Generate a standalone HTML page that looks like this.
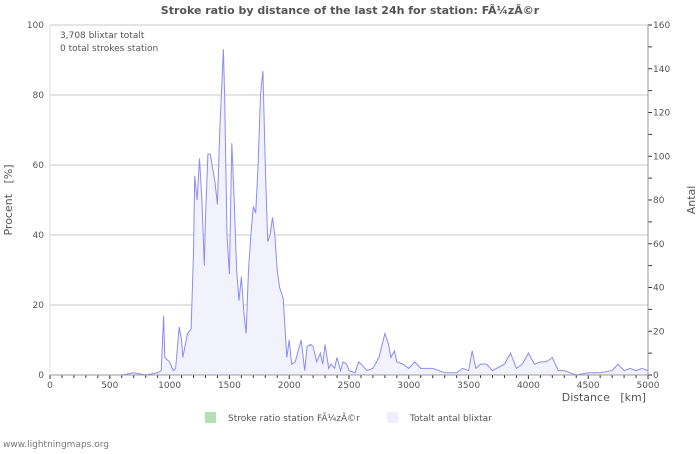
<!DOCTYPE html>
<html><head><meta charset="utf-8"><style>
body{margin:0;background:#fff;font-family:"DejaVu Sans","Liberation Sans",sans-serif}
svg text{font-family:"DejaVu Sans","Liberation Sans",sans-serif}
</style></head><body>
<svg id="c" width="700" height="450" xmlns="http://www.w3.org/2000/svg">
<rect width="700" height="450" fill="#fff"/>
<text x="350" y="14" text-anchor="middle" font-size="11" font-weight="bold" fill="#555">Stroke ratio by distance of the last 24h for station: FÃ¼zÃ©r</text>
<g id="grid"></g>
<g id="series"></g>
<g id="axes"></g>
<text x="60" y="38" font-size="9" fill="#555">3,708 blixtar totalt</text>
<text x="60" y="51" font-size="9" fill="#555">0 total strokes station</text>
<text transform="translate(12,200) rotate(-90)" text-anchor="middle" font-size="11" fill="#555" xml:space="preserve">Procent   [%]</text>
<text transform="translate(695,200) rotate(-90)" text-anchor="middle" font-size="11" fill="#555">Antal</text>
<text x="646" y="401" text-anchor="end" font-size="11" fill="#555" xml:space="preserve">Distance   [km]</text>
<rect x="205" y="412" width="11" height="11" fill="#b3e0b3"/>
<text x="228" y="421" font-size="9" fill="#555">Stroke ratio station FÃ¼zÃ©r</text>
<rect x="387" y="412" width="11" height="11" fill="#eeeeff"/>
<text x="410" y="421" font-size="9" fill="#555">Totalt antal blixtar</text>
<text x="3" y="447" font-size="9" fill="#777">www.lightningmaps.org</text>
</svg>
<script>
const distances=[0,600,700,800,900,930,950,960,1000,1030,1050,1080,1100,1110,1150,1180,1200,1210,1230,1250,1270,1290,1300,1320,1340,1380,1400,1420,1450,1460,1480,1500,1520,1540,1560,1580,1600,1620,1640,1660,1680,1700,1720,1740,1760,1780,1800,1820,1840,1860,1880,1900,1920,1950,1980,2000,2020,2050,2100,2130,2150,2180,2200,2230,2260,2280,2300,2330,2350,2380,2400,2430,2450,2480,2500,2550,2580,2600,2650,2700,2750,2800,2830,2850,2880,2900,2950,3000,3050,3100,3200,3300,3400,3450,3500,3530,3560,3600,3650,3700,3800,3850,3900,3950,4000,4050,4100,4150,4200,4250,4300,4350,4400,4500,4600,4700,4750,4800,4850,4900,4950,5000];
const counts=[0,0,1,0,1,2,27,8,6,2,3,22,16,8,19,21,56,91,80,99,80,50,72,101,101,88,78,112,149,128,64,46,106,80,48,34,45,29,19,48,64,77,74,96,128,139,96,61,64,72,64,48,40,35,8,16,5,6,16,2,13,14,13,6,10,5,14,3,5,3,8,2,6,5,2,1,6,5,2,3,8,19,14,8,11,6,5,3,6,3,3,1,1,3,2,11,3,5,5,2,5,10,3,5,10,5,6,6,8,2,2,1,0,1,1,2,5,2,3,2,3,2];
const leftTicks=[0,20,40,60,80,100];
const rightTicks=[0,20,40,60,80,100,120,140,160];
const xTicks=[0,500,1000,1500,2000,2500,3000,3500,4000,4500,5000];
const NS="http://www.w3.org/2000/svg";
const X0=50,X1=648,Y0=375,Y1=25;
const xs=d=>X0+(d/5000)*(X1-X0);
const yl=p=>Y0-(p/100)*(Y0-Y1);
const yr=c=>Y0-(c/160)*(Y0-Y1);
function mk(tag,attrs,parent,txt){const e=document.createElementNS(NS,tag);for(const k in attrs)e.setAttribute(k,attrs[k]);if(txt!==undefined)e.textContent=txt;document.getElementById(parent).appendChild(e);return e;}
leftTicks.forEach(t=>{
  if(t>0){const g=mk('line',{x1:X0,x2:X1,y1:yl(t),y2:yl(t),stroke:'#c8c8c8','stroke-width':1},'grid');
  
  }
  const l=mk('text',{x:44,y:yl(t)+3,'text-anchor':'end','font-size':9,fill:'#555'},'axes',String(t));
  
  
});
rightTicks.forEach(t=>{
  const l=mk('text',{x:653,y:yr(t)+3,'font-size':9,fill:'#555'},'axes',String(t));
  
  
});
for(let t=0;t<=160;t+=10){mk('line',{x1:X1,x2:X1+4,y1:yr(t),y2:yr(t),stroke:'#333'},'axes');}
for(let d=0;d<=5000;d+=100){mk('line',{x1:xs(d),x2:xs(d),y1:Y0,y2:Y0+(d%500?3:4),stroke:'#333'},'axes');}
xTicks.forEach(t=>{
  const l=mk('text',{x:xs(t),y:388,'text-anchor':'middle','font-size':9,fill:'#555'},'axes',String(t));
  
  
});
let pts=distances.map((d,i)=>xs(d).toFixed(1)+','+yr(counts[i]).toFixed(1));
const area=mk('polygon',{points:xs(0)+','+Y0+' '+pts.join(' ')+' '+xs(5000)+','+Y0,fill:'#f2f2fc'},'series');


const line=mk('polyline',{points:pts.join(' '),fill:'none',stroke:'#8c8cf5','stroke-width':1},'series');


mk('line',{x1:X0,x2:X1,y1:Y0,y2:Y0,stroke:'#999'},'axes');
mk('line',{x1:X1,x2:X1,y1:Y1,y2:Y0,stroke:'#999'},'axes');
mk('line',{x1:X0,x2:X0,y1:Y1,y2:Y0,stroke:'#ddd'},'axes');
</script>
</body></html>
